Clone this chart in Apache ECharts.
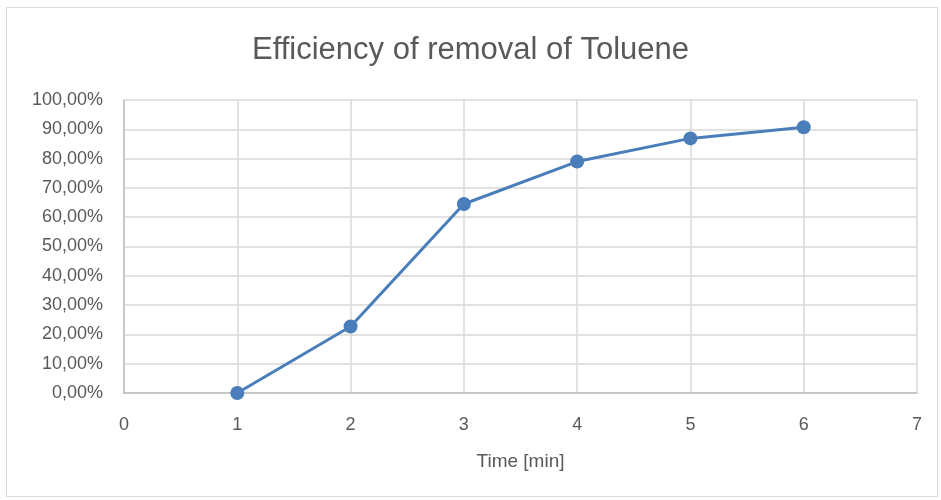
<!DOCTYPE html>
<html>
<head>
<meta charset="utf-8">
<script src="https://cdn.jsdelivr.net/npm/echarts@6/dist/echarts.min.js"></script>
<style>
  html, body { margin: 0; padding: 0; background: #fff; }
  #main { width: 941px; height: 500px; }
</style>
</head>
<body>
<div id="main"></div>
<script>
// time in minutes and removal efficiency in percent
var times = [1, 2, 3, 4, 5, 6];
var efficiency = [0, 22.7, 64.5, 79.0, 86.9, 90.7];

var chart = echarts.init(document.getElementById('main'));
var font = 'Liberation Sans';
var textColor = '#595959';

var points = times.map(function (t, i) { return [t, efficiency[i]]; });

var option = {
  backgroundColor: '#fff',
  animation: false,
  graphic: [{
    type: 'rect',
    shape: { x: 6.5, y: 7.5, width: 931, height: 489 },
    style: { fill: 'none', stroke: '#d9d9d9', lineWidth: 1 }
  }],
  title: {
    text: 'Efficiency of removal of Toluene',
    left: 'center',
    top: 30,
    textStyle: { fontFamily: font, fontSize: 31, fontWeight: 'normal', color: textColor }
  },
  grid: { left: 124, right: 24, top: 100, bottom: 107 },
  xAxis: {
    type: 'value',
    min: 0,
    max: 7,
    interval: 1,
    name: 'Time [min]',
    nameLocation: 'middle',
    nameGap: 59,
    nameTextStyle: { fontFamily: font, fontSize: 19, color: textColor },
    axisLine: { show: true, lineStyle: { color: '#bfbfbf', width: 1.5 } },
    axisTick: { show: false },
    axisLabel: { fontFamily: font, fontSize: 18, color: textColor, margin: 23 },
    splitLine: { show: true, lineStyle: { color: '#d9d9d9', width: 1.5 } }
  },
  yAxis: {
    type: 'value',
    min: 0,
    max: 100,
    interval: 10,
    axisLine: { show: true, lineStyle: { color: '#bfbfbf', width: 1.5 } },
    axisTick: { show: false },
    axisLabel: {
      fontFamily: font, fontSize: 18, color: textColor, margin: 21,
      formatter: function (v) { return v.toFixed(2).replace('.', ',') + '%'; }
    },
    splitLine: { show: true, lineStyle: { color: '#d9d9d9', width: 1.5 } }
  },
  series: [{
    type: 'line',
    data: points,
    symbol: 'circle',
    symbolSize: 14,
    lineStyle: { color: '#4a7ebb', width: 3 },
    itemStyle: { color: '#4a7ebb' }
  }]
};

chart.setOption(option);
</script>
</body>
</html>
